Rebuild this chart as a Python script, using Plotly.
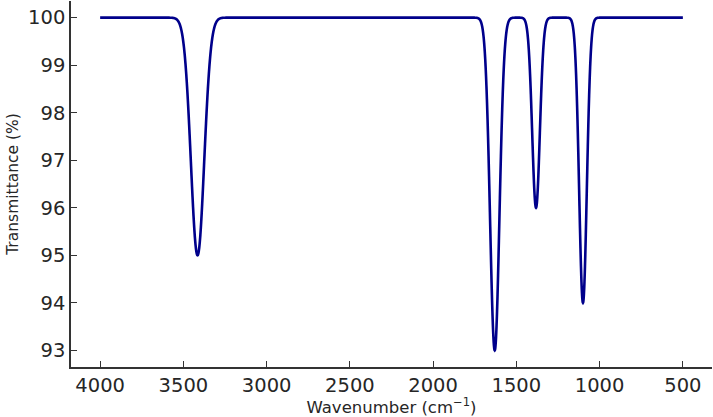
import numpy as np
import plotly.graph_objects as go

# Peak parameters
peak_centers = [3415, 1630, 1382, 1100]   # cm^-1
peak_depths = [5.0, 7.0, 4.0, 6.0]        # % transmittance drop
peak_widths = [40, 28, 23, 23]            # Gaussian sigma, cm^-1
baseline = 100.0
x_ticks = [4000, 3500, 3000, 2500, 2000, 1500, 1000, 500]
y_ticks = [93, 94, 95, 96, 97, 98, 99, 100]

wavenumber = np.linspace(4000, 500, 3501)
transmittance = np.full_like(wavenumber, baseline)
for c, d, w in zip(peak_centers, peak_depths, peak_widths):
    transmittance -= d * np.exp(-((wavenumber - c) ** 2) / (2 * w ** 2))

fig = go.Figure()
fig.add_trace(go.Scatter(x=wavenumber, y=transmittance, mode="lines",
                         line=dict(color="#00008B", width=2.6, simplify=False),
                         showlegend=False))

axis_common = dict(showline=True, linecolor="#333333", linewidth=1.5, ticks="inside",
                   ticklen=6, tickwidth=1, tickcolor="#333333", showgrid=False,
                   zeroline=False, mirror=False,
                   tickfont=dict(family="DejaVu Sans", size=19.5, color="#262626"))

fig.update_layout(
    width=713, height=417,
    margin=dict(l=71, r=1, t=1, b=50),
    paper_bgcolor="white", plot_bgcolor="white",
    xaxis=dict(range=[4175, 325], tickvals=x_ticks,
               title=dict(text="Wavenumber (cm<sup>−1</sup>)", standoff=2,
                          font=dict(family="DejaVu Sans", size=16.5, color="#262626")),
               **axis_common),
    yaxis=dict(range=[92.65, 100.35], tickvals=y_ticks,
               title=dict(text="Transmittance (%)", standoff=6,
                          font=dict(family="DejaVu Sans", size=15.5, color="#262626")),
               **axis_common),
)

fig.write_html("out.html")
